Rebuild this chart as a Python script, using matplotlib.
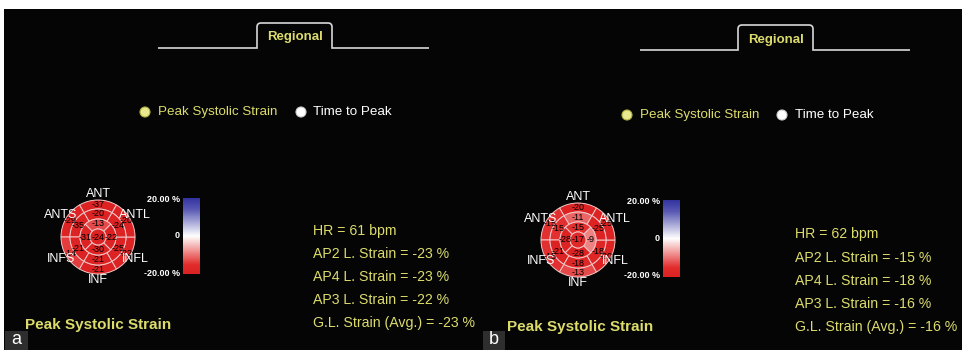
import matplotlib
matplotlib.use("Agg")
import matplotlib.pyplot as plt
import numpy as np
from matplotlib.patches import Wedge, Circle, Rectangle, PathPatch
from matplotlib.path import Path
from matplotlib.colors import LinearSegmentedColormap, Normalize

plt.rcParams["font.family"] = ["Liberation Sans", "DejaVu Sans"]

# 17-segment order: basal x6, mid x6 (ant, antsept, infsept, inf, inflat, antlat), apical x4 (ant, sept, inf, lat), apex
seg_a = [-37, -29, -14, -21, -22, -20,
         -20, -35, -21, -21, -25, -24,
         -13, -31, -30, -22,
         -24]
seg_b = [-20, -15, -15, -13, -20, -25,
         -11, -15, -21, -18, -18, -25,
         -15, -28, -28, -9,
         -17]
wall_labels = ["ANT", "ANTS", "INFS", "INF", "INFL", "ANTL"]
hr = [61, 62]
ap2 = [-23, -15]
ap4 = [-23, -18]
ap3 = [-22, -16]
gls = [-23, -16]
panel_tags = ["a", "b"]

YEL = "#dcdc6c"
BG = "#050505"

cmap = LinearSegmentedColormap.from_list(
    "strain", [(0.0, "#dc2222"), (0.12, "#e22c2c"), (0.5, "#ffffff"),
               (0.85, "#5a5ab4"), (1.0, "#3434a0")])
norm = Normalize(-20, 20)

fig = plt.figure(figsize=(9.65, 3.5), dpi=100, facecolor="white")
ax = fig.add_axes([0, 0, 1, 1])
ax.set_xlim(0, 965)
ax.set_ylim(350, 0)
ax.axis("off")
ax.add_patch(Rectangle((4, 9), 958, 341, facecolor=BG, edgecolor="none"))

panels = [
    dict(tab=(158, 257, 332, 429, 48, 23), reg=(295, 37), ry=112, rad=(145, 158, 301, 313),
         c=(98, 237), cb=(183, 200, 198, 274), sx=313, sy=[231, 254, 277, 300, 323],
         title=(25, 325), box=(5, 28)),
    dict(tab=(640, 738, 813, 910, 50, 25), reg=(776, 40), ry=115, rad=(627, 640, 782, 795),
         c=(578, 240), cb=(663, 680, 200, 277), sx=795, sy=[234, 258, 281, 304, 327],
         title=(507, 327), box=(483, 505)),
]


def bullseye(cx, cy, vals):
    R = [0, 8, 18, 28, 37]
    ec = "#f2c8c8"
    # basal + mid rings, 6 segments each
    centers6 = [90, 150, 210, 270, 330, 30]
    for ring in range(2):
        r_in, r_out = R[3 - ring], R[4 - ring]
        for k, th in enumerate(centers6):
            v = vals[ring * 6 + k]
            ax.add_patch(Wedge((cx, cy), r_out, -th - 30, -th + 30, width=r_out - r_in,
                               facecolor=cmap(norm(v)), edgecolor=ec, lw=0.7))
            rm = (r_in + r_out) / 2
            ax.text(cx + rm * np.cos(np.radians(th)), cy - rm * np.sin(np.radians(th)),
                    str(v), fontsize=6.5, ha="center", va="center", color="black")
    centers4 = [90, 180, 270, 0]
    for k, th in enumerate(centers4):
        v = vals[12 + k]
        ax.add_patch(Wedge((cx, cy), R[2], -th - 45, -th + 45, width=R[2] - R[1],
                           facecolor=cmap(norm(v)), edgecolor=ec, lw=0.7))
        rm = 13
        ax.text(cx + rm * np.cos(np.radians(th)), cy - rm * np.sin(np.radians(th)),
                str(v), fontsize=6.5, ha="center", va="center", color="black")
    ax.add_patch(Circle((cx, cy), R[1], facecolor=cmap(norm(vals[16])), edgecolor=ec, lw=0.7))
    ax.text(cx, cy, str(vals[16]), fontsize=6.5, ha="center", va="center", color="black")
    for th, lab in zip(centers6, wall_labels):
        rl = 43
        ax.text(cx + rl * np.cos(np.radians(th)), cy - rl * np.sin(np.radians(th)),
                lab, fontsize=9, ha="center", va="center", color="white")


for i, p in enumerate(panels):
    x0, xl, xr, x1, yl, yt = p["tab"]
    rr = 4
    verts = [(x0, yl), (xl, yl), (xl, yt + rr), (xl, yt), (xl + rr, yt),
             (xr - rr, yt), (xr, yt), (xr, yt + rr), (xr, yl), (x1, yl)]
    codes = [Path.MOVETO, Path.LINETO, Path.LINETO, Path.CURVE3, Path.CURVE3,
             Path.LINETO, Path.CURVE3, Path.CURVE3, Path.LINETO, Path.LINETO]
    ax.add_patch(PathPatch(Path(verts, codes), facecolor="none", edgecolor="#d8d8d8", lw=1.2))
    ax.text(*p["reg"], "Regional", fontsize=9.5, fontweight="bold", color=YEL,
            ha="center", va="center")

    ry = p["ry"]
    yc, yt_, wc, wt = p["rad"]
    ax.add_patch(Circle((yc, ry), 5, facecolor="#e8e890", edgecolor="#b0b040", lw=0.8))
    ax.text(yt_, ry, "Peak Systolic Strain", fontsize=9.6, color=YEL, ha="left", va="center")
    ax.add_patch(Circle((wc, ry), 5, facecolor="white", edgecolor="#cccccc", lw=0.8))
    ax.text(wt, ry, "Time to Peak", fontsize=9.6, color="white", ha="left", va="center")

    cx, cy = p["c"]
    bullseye(cx, cy, seg_a if i == 0 else seg_b)

    bx0, bx1, by0, by1 = p["cb"]
    grad = np.linspace(20, -20, 200).reshape(-1, 1)
    ax.imshow(grad, cmap=cmap, norm=norm, extent=(bx0, bx1, by1, by0), aspect="auto",
              interpolation="bilinear", zorder=2)
    ax.text(bx0 - 3, by0 + 1, "20.00 %", fontsize=6.5, fontweight="bold", color="white",
            ha="right", va="center")
    ax.text(bx0 - 3, (by0 + by1) / 2, "0", fontsize=6.5, fontweight="bold", color="white",
            ha="right", va="center")
    ax.text(bx0 - 3, by1 - 1, "-20.00 %", fontsize=6.5, fontweight="bold", color="white",
            ha="right", va="center")

    lines = [f"HR = {hr[i]} bpm", f"AP2 L. Strain = {ap2[i]} %", f"AP4 L. Strain = {ap4[i]} %",
             f"AP3 L. Strain = {ap3[i]} %", f"G.L. Strain (Avg.) = {gls[i]} %"]
    for s, y in zip(lines, p["sy"]):
        ax.text(p["sx"], y, s, fontsize=10.2, color=YEL, ha="left", va="center")

    ax.text(*p["title"], "Peak Systolic Strain", fontsize=11, fontweight="bold", color=YEL,
            ha="left", va="center")
    b0, b1 = p["box"]
    ax.add_patch(Rectangle((b0, 331), b1 - b0, 19, facecolor="#2e2e2e", edgecolor="none", zorder=3))
    ax.text((b0 + b1) / 2, 340, panel_tags[i], fontsize=13, color="white", ha="center",
            va="center", zorder=4)

ax.set_xlim(0, 965)
ax.set_ylim(350, 0)
fig.savefig("out.png", dpi=100, facecolor="white")
